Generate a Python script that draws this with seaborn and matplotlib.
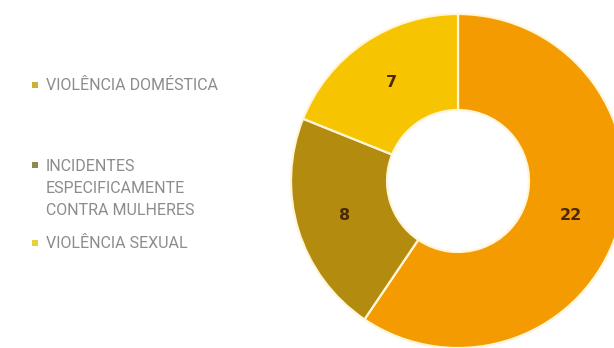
import matplotlib
matplotlib.use("Agg")
import matplotlib.pyplot as plt
import seaborn as sns

# Categories and counts
categories = ["VIOLÊNCIA DOMÉSTICA",
              "INCIDENTES\nESPECIFICAMENTE\nCONTRA MULHERES",
              "VIOLÊNCIA SEXUAL"]
values = [22, 8, 7]
slice_colors = ["#F59B02", "#B38B0E", "#F6C400"]
legend_colors = ["#CDB03A", "#8E8A4C", "#E4D23A"]

sns.set_theme(style="white")
plt.rcParams["font.family"] = ["Roboto", "DejaVu Sans"]

W, H = 614, 348
fig = plt.figure(figsize=(W / 100, H / 100), dpi=100)
fig.patch.set_facecolor("white")

# Donut chart
cx, cy, r = 458, 181, 167
ax = fig.add_axes([(cx - r) / W, (H - cy - r) / H, 2 * r / W, 2 * r / H])
total = sum(values)
ax.pie(
    values,
    colors=slice_colors,
    startangle=90,
    counterclock=False,
    radius=1.0,
    autopct=lambda p: f"{round(p * total / 100)}",
    pctdistance=0.71,
    wedgeprops=dict(width=0.575, edgecolor="#FFF6DA", linewidth=1.6),
    textprops=dict(color="#4A2A05", fontsize=11.5, fontweight="bold",
                   family=["DejaVu Sans"]),
)
ax.set_xlim(-1, 1)
ax.set_ylim(-1, 1)
ax.set_aspect("equal")
ax.axis("off")

# Legend drawn in pixel space
lax = fig.add_axes([0, 0, 1, 1])
lax.set_xlim(0, W)
lax.set_ylim(H, 0)
lax.axis("off")
rows = [85, 165, 243]
for label, col, y in zip(categories, legend_colors, rows):
    lax.scatter([35], [y], marker="s", s=16, color=col, linewidths=0)
    if "\n" in label:
        lax.text(46, y - 6, label, ha="left", va="top", fontsize=11.5,
                 color="#8C8C8C", linespacing=1.6)
    else:
        lax.text(46, y, label, ha="left", va="center", fontsize=11.5,
                 color="#8C8C8C")

fig.savefig("out.png", dpi=100, facecolor="white")
